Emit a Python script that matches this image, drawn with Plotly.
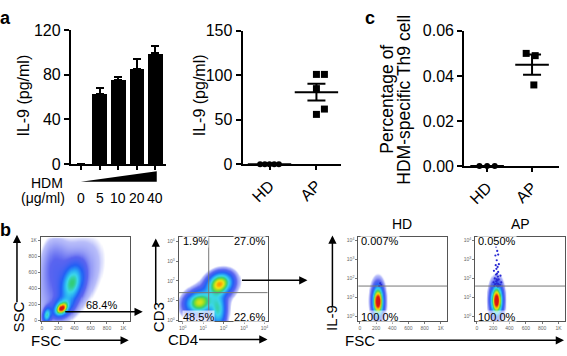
import numpy as np
import plotly.graph_objects as go

W, H = 567, 356
FONT = "Liberation Sans, Arial, sans-serif"

# ---------------- data ----------------
hdm_conc = ["0", "5", "10", "20", "40"]
il9_hdm_mean = [0, 63, 75, 85, 99]
il9_hdm_sem = [0, 5, 3, 9, 7]

group_names = ["HD", "AP"]
il9_hd = [0, 0, 0, 0, 0]
il9_ap = [101, 101, 85, 62, 56]
th9_hd = [0, 0, 0]
th9_ap = [0.050, 0.049, 0.036]

# dot spread inside each group column (category units)
il9_hd_jitter = [-0.2, -0.1, 0.0, 0.1, 0.2]
il9_ap_jitter = [0.0, 0.17, 0.0, 0.17, 0.0]
th9_hd_jitter = [-0.17, 0.0, 0.17]
th9_ap_jitter = [-0.13, 0.07, 0.04]

y_ticks_a1 = [0, 40, 80, 120]
y_ticks_a2 = [0, 50, 100, 150]
y_ticks_c = [0, 0.02, 0.04, 0.06]

# flow cytometry populations: centre x, centre y, major sd, minor sd, major-axis angle (deg), density
fscssc_cx = [240, 250, 370, 60, 330, 140]
fscssc_cy = [150, 170, 470, 70, 500, 720]
fscssc_major = [50, 90, 140, 55, 400, 230]
fscssc_minor = [35, 65, 75, 30, 230, 110]
fscssc_angle = [45, 45, 75, 80, 60, 90]
fscssc_weight = [0.75, 0.3, 0.45, 0.4, 0.07, 0.05]
fscssc_gate_pct = "68.4%"

cd4cd3_cx = [1.8, 0.8, 1.72, 1.3]      # log10 CD4
cd4cd3_cy = [1.87, 0.9, 0.5, 1.2]      # log10 CD3
cd4cd3_major = [0.38, 0.4, 0.55, 0.8]
cd4cd3_minor = [0.31, 0.34, 0.24, 0.45]
cd4cd3_angle = [30, 20, 90, 30]
cd4cd3_weight = [0.78, 0.64, 0.42, 0.1]
cd4_gate = 1.27
cd3_gate = 1.4
cd4cd3_quadrants = ["1.9%", "27.0%", "48.5%", "22.6%"]   # UL, UR, LL, LR

il9_panel_names = ["HD", "AP"]
il9_cx = [[220, 220], [240, 240]]      # FSC
il9_cy = [[0.8, 0.85], [0.85, 0.9]]    # log10 IL-9
il9_major = [[0.42, 0.65], [0.42, 0.65]]   # along IL-9 (log)
il9_minor = [[36, 55], [38, 55]]       # along FSC
il9_angle = [[90, 90], [90, 90]]
il9_weight = [[1.0, 0.2], [1.0, 0.2]]
il9_gate = 1.6
il9_upper_pct = ["0.007%", "0.050%"]
il9_lower_pct = ["100.0%", "100.0%"]

hd_event_fsc = [250, 262, 238]
hd_event_il9 = [56, 45, 40]
ap_event_fsc = [236, 250, 228, 262, 244, 232, 270, 255, 240, 210, 262, 248, 236, 290, 258,
                220, 244, 268, 252, 238, 205, 300, 246, 262, 224, 284, 242, 270, 214, 258]
ap_event_il9 = [4500, 2800, 1600, 1800, 900, 500, 560, 400, 320, 250, 220, 180, 160, 140, 125,
                100, 90, 89, 80, 71, 63, 63, 56, 50, 50, 45, 42, 40, 40, 38]

fsc_ticks = [0, 200, 400, 600, 800, 1000]
fsc_ticktext = ["0", "200", "400", "600", "800", "1K"]
log_ticks = [0, 1, 2, 3, 4]
log_ticktext = ["10<sup>%d</sup>" % t for t in log_ticks]


def px(x):
    return x / W


def py(y):
    return 1 - y / H


def density(xv, yv, cx, cy, major, minor, angle, weight):
    X, Y = np.meshgrid(xv, yv)
    z = np.zeros_like(X, dtype=float)
    for a, b, ma, mi, an, w in zip(cx, cy, major, minor, angle, weight):
        t = np.deg2rad(an)
        dx, dy = X - a, Y - b
        u = dx * np.cos(t) + dy * np.sin(t)
        v = -dx * np.sin(t) + dy * np.cos(t)
        z += w * np.exp(-0.5 * ((u / ma) ** 2 + (v / mi) ** 2))
    return np.clip(z, 0, 1)


flow_cs = [[0, "rgb(255,255,255)"], [0.02, "rgb(255,255,255)"], [0.03, "rgb(185,190,250)"],
           [0.08, "rgb(90,100,240)"], [0.18, "rgb(35,95,245)"], [0.3, "rgb(40,170,245)"],
           [0.4, "rgb(60,215,235)"], [0.52, "rgb(50,205,120)"], [0.63, "rgb(140,222,40)"],
           [0.75, "rgb(245,230,20)"], [0.88, "rgb(255,130,0)"], [1, "rgb(215,20,20)"]]

# domains in pixels: (x0, x1), (ytop, ybottom)
dom = {
    1: ((71, 166), (23, 164)),
    2: ((243, 342), (24, 164)),
    3: ((465, 560), (24, 166)),
    4: ((41, 130), (241, 329)),
    5: ((179, 268), (241, 329)),
    6: ((359, 448), (240, 329)),
    7: ((476, 566), (240, 329)),
}

fig = go.Figure()

# ---- panel a (left): bars ----
x_idx = list(range(len(hdm_conc)))
fig.add_trace(go.Bar(
    x=x_idx, y=il9_hdm_mean, width=0.8, marker=dict(color="black", line=dict(width=0)),
    error_y=dict(type="data", array=[e if e else None for e in il9_hdm_sem], symmetric=False,
                 arrayminus=[0] * len(il9_hdm_sem), color="black", thickness=2, width=4),
    xaxis="x", yaxis="y", showlegend=False, hoverinfo="skip"))


def add_groups(vals_list, jit_list, symbols, sizes, xa, ya, mean_len, cap):
    for gi, (vals, jit, sym, sz) in enumerate(zip(vals_list, jit_list, symbols, sizes)):
        fig.add_trace(go.Scatter(
            x=[gi + j for j in jit], y=vals, mode="markers",
            marker=dict(symbol=sym, size=sz, color="black", line=dict(width=0)),
            cliponaxis=False, xaxis=xa, yaxis=ya, showlegend=False, hoverinfo="skip"))
        m = float(np.mean(vals))
        s = float(np.std(vals, ddof=1) / np.sqrt(len(vals)))
        fig.add_trace(go.Scatter(
            x=[gi], y=[m], mode="markers",
            marker=dict(symbol="line-ew", size=mean_len, color="black",
                        line=dict(width=2, color="black")),
            error_y=dict(type="data", array=[s], color="black", thickness=2, width=cap),
            cliponaxis=False, xaxis=xa, yaxis=ya, showlegend=False, hoverinfo="skip"))


add_groups([il9_hd, il9_ap], [il9_hd_jitter, il9_ap_jitter], ["circle", "square"], [6, 7],
           "x2", "y2", 31, 9)
add_groups([th9_hd, th9_ap], [th9_hd_jitter, th9_ap_jitter], ["circle", "square"], [6, 7],
           "x3", "y3", 24, 9)

# ---- flow plots ----
rng = {
    4: ([-12, 1080], [-10, 1035]),
    5: ([-0.2, 4.15], [-0.05, 4.19]),
    6: ([-20, 1080], [-0.25, 4.2]),
    7: ([-20, 1080], [-0.25, 4.2]),
}


def add_flow(k, cx, cy, ma, mi, an, w):
    xr, yr = rng[k]
    xv = np.linspace(xr[0], xr[1], 170)
    yv = np.linspace(yr[0], yr[1], 170)
    z = density(xv, yv, cx, cy, ma, mi, an, w)
    fig.add_trace(go.Heatmap(x=xv, y=yv, z=z, colorscale=flow_cs, zmin=0, zmax=1,
                             zsmooth="best", showscale=False, hoverinfo="skip",
                             xaxis="x%d" % k, yaxis="y%d" % k))


add_flow(4, fscssc_cx, fscssc_cy, fscssc_major, fscssc_minor, fscssc_angle, fscssc_weight)
add_flow(5, cd4cd3_cx, cd4cd3_cy, cd4cd3_major, cd4cd3_minor, cd4cd3_angle, cd4cd3_weight)
for i, k in enumerate([6, 7]):
    add_flow(k, il9_cx[i], il9_cy[i], il9_major[i], il9_minor[i], il9_angle[i], il9_weight[i])

for k, fx, fy in [(6, hd_event_fsc, hd_event_il9), (7, ap_event_fsc, ap_event_il9)]:
    fig.add_trace(go.Scatter(x=fx, y=np.log10(fy), mode="markers",
                             marker=dict(size=2.2, color="rgb(40,40,210)", line=dict(width=0)),
                             xaxis="x%d" % k, yaxis="y%d" % k, showlegend=False, hoverinfo="skip"))

# ---- axes ----
layout_axes = {}
main_y = dict(showline=True, linewidth=2, linecolor="black", ticks="outside", ticklen=5,
              tickwidth=2, tickcolor="black", showgrid=False, zeroline=False,
              tickfont=dict(size=16, color="black"))
main_x = dict(showline=True, linewidth=2, linecolor="black", ticks="outside", ticklen=4,
              tickwidth=2, tickcolor="black", showgrid=False, zeroline=False,
              tickfont=dict(size=16, color="black"))


def dom_of(k):
    (x0, x1), (yt, yb) = dom[k]
    return [px(x0), px(x1)], [py(yb), py(yt)]


for k in range(1, 8):
    xd, yd = dom_of(k)
    xn = "xaxis" if k == 1 else "xaxis%d" % k
    yn = "yaxis" if k == 1 else "yaxis%d" % k
    anchor_x = "y" if k == 1 else "y%d" % k
    anchor_y = "x" if k == 1 else "x%d" % k
    if k <= 3:
        xa = dict(main_x, domain=xd, anchor=anchor_x)
        ya = dict(main_y, domain=yd, anchor=anchor_y)
        if k == 1:
            xa.update(range=[-0.55, 4.55], tickvals=x_idx, showticklabels=False)
            ya.update(range=[0, 120], tickvals=y_ticks_a1)
        elif k == 2:
            xa.update(range=[-0.574, 1.532], tickvals=[0, 1], ticktext=group_names, tickangle=-45)
            ya.update(range=[0, 150], tickvals=y_ticks_a2)
        else:
            xa.update(range=[-0.51, 1.6], tickvals=[0, 1], ticktext=group_names, tickangle=-45)
            ya.update(range=[0, 0.06], tickvals=y_ticks_c, tickformat=".2f")
    else:
        small = dict(showline=True, linewidth=1, linecolor="#555", mirror=True, ticks="outside",
                     ticklen=2, tickwidth=0.6, tickcolor="#777", showgrid=False, zeroline=False,
                     tickfont=dict(size=5, color="#666"))
        xr, yr = rng[k]
        xa = dict(small, domain=xd, anchor=anchor_x, range=xr)
        ya = dict(small, domain=yd, anchor=anchor_y, range=yr)
        if k == 4:
            xa.update(tickvals=fsc_ticks, ticktext=fsc_ticktext)
            ya.update(tickvals=fsc_ticks, ticktext=fsc_ticktext)
        elif k == 5:
            xa.update(tickvals=log_ticks, ticktext=log_ticktext)
            ya.update(tickvals=log_ticks, ticktext=log_ticktext)
        else:
            xa.update(tickvals=fsc_ticks, ticktext=fsc_ticktext)
            ya.update(tickvals=log_ticks, ticktext=log_ticktext)
    layout_axes[xn] = xa
    layout_axes[yn] = ya

# ---- shapes ----
shapes = [
    dict(type="path", xref="paper", yref="paper", layer="above",
         path="M %f,%f L %f,%f L %f,%f Z" % (px(81), py(182.5), px(157), py(171.5), px(157), py(182.5)),
         fillcolor="black", line=dict(width=0)),
    dict(type="line", xref="x5", yref="y5 domain", x0=cd4_gate, x1=cd4_gate, y0=0, y1=1,
         line=dict(color="#777", width=1)),
    dict(type="line", xref="x5 domain", yref="y5", x0=0, x1=1, y0=cd3_gate, y1=cd3_gate,
         line=dict(color="#777", width=1)),
]
for k in [6, 7]:
    shapes.append(dict(type="line", xref="x%d domain" % k, yref="y%d" % k, x0=0, x1=1,
                       y0=il9_gate, y1=il9_gate, line=dict(color="#777", width=1)))

# ---- annotations ----
ann = []


def text(x, y, t, size=16, angle=0, bold=False, xanchor="center", bg=None, color="black"):
    d = dict(x=px(x), y=py(y), xref="paper", yref="paper", text=("<b>%s</b>" % t) if bold else t,
             showarrow=False, textangle=angle, xanchor=xanchor, yanchor="middle",
             font=dict(size=size, color=color, family=FONT), borderpad=0)
    if bg:
        d["bgcolor"] = bg
    ann.append(d)


def arrow(x0, y0, x1, y1):
    ann.append(dict(x=px(x1), y=py(y1), xref="paper", yref="paper", ax=x0 - x1, ay=y0 - y1,
                    axref="pixel", ayref="pixel", text="", showarrow=True, arrowhead=2,
                    arrowsize=1.1, arrowwidth=1.5, arrowcolor="black"))


text(6, 10, "a", size=18, bold=True)
text(6, 233, "b", size=18, bold=True)
text(371, 11, "c", size=18, bold=True)

text(24, 92, "IL-9 (pg/ml)", angle=-90)
text(200, 92, "IL-9 (pg/ml)", angle=-90)
text(388, 96, "Percentage of", size=17.5, angle=-90)
text(405, 96, "HDM-specific Th9 cell", size=17.5, angle=-90)

text(47, 184, "HDM", size=14)
text(43, 200, "(μg/ml)", size=14)
for i, c in enumerate(hdm_conc):
    ann.append(dict(x=i, y=py(200), xref="x", yref="paper", text=c, showarrow=False,
                    xanchor="center", yanchor="middle", font=dict(size=14, family=FONT)))

# flow labels
text(102, 312, fscssc_gate_pct, size=11)
text(182, 245, cd4cd3_quadrants[0], size=11, xanchor="left", bg="rgba(255,255,255,0.75)")
text(266, 245, cd4cd3_quadrants[1], size=11, xanchor="right", bg="rgba(255,255,255,0.75)")
text(182, 324, cd4cd3_quadrants[2], size=11, xanchor="left", bg="rgba(255,255,255,0.7)")
text(266, 324, cd4cd3_quadrants[3], size=11, xanchor="right", bg="rgba(255,255,255,0.7)")
for i, x0 in enumerate([361, 478]):
    text(x0, 245, il9_upper_pct[i], size=11, xanchor="left", bg="rgba(255,255,255,0.75)")
    text(x0, 324, il9_lower_pct[i], size=11, xanchor="left", bg="rgba(255,255,255,0.6)")
text(403, 227, il9_panel_names[0], size=14)
text(521, 227, il9_panel_names[1], size=14)

text(19, 324, "SSC", size=15, angle=-90)
arrow(17, 307, 17, 238)
text(46, 349, "FSC", size=15)
arrow(63, 349, 129, 349)
text(159, 325, "CD3", size=15, angle=-90)
arrow(156, 309, 156, 242)
text(183, 348, "CD4", size=15)
arrow(198, 348, 268, 348)
text(332, 325, "IL-9", size=15, angle=-90)
arrow(333, 311, 333, 239)
text(361, 349, "FSC", size=15)
arrow(378, 349, 565, 349)

arrow(64, 319, 143, 319)
arrow(241, 286, 308, 286)

fig.update_layout(
    width=W, height=H, margin=dict(l=0, r=0, t=0, b=0),
    paper_bgcolor="white", plot_bgcolor="rgba(0,0,0,0)",
    font=dict(family=FONT, color="black"),
    showlegend=False, bargap=0,
    shapes=shapes, annotations=ann,
    **layout_axes,
)

fig.write_html("out.html", config={"displayModeBar": False},
               post_script="document.body.style.margin='0';document.body.style.overflow='hidden';")
